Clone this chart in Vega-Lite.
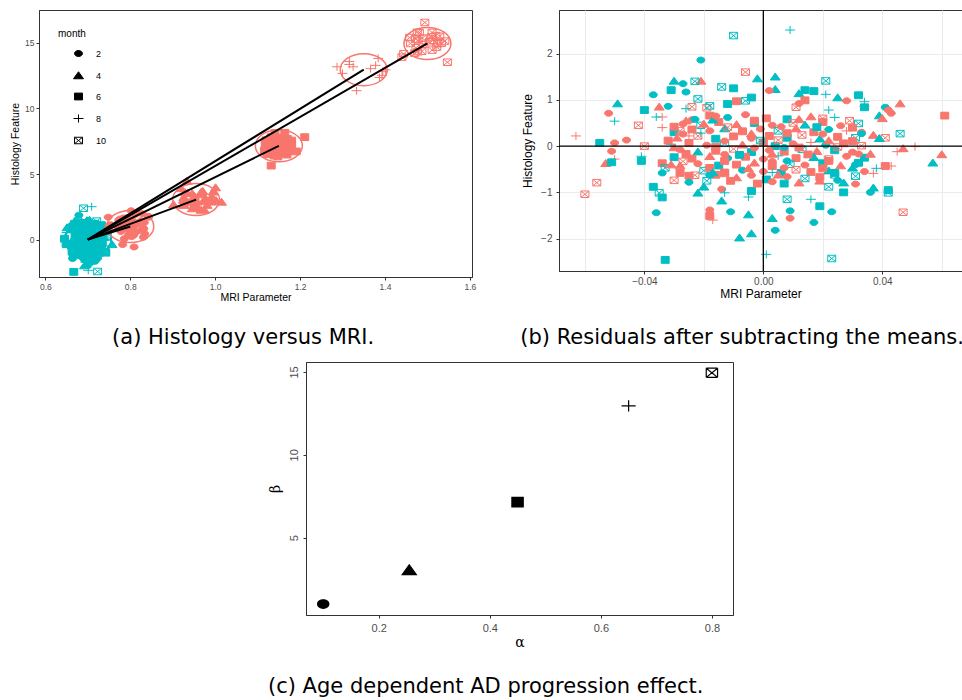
{
  "$schema": "https://vega.github.io/schema/vega-lite/v6.json",
  "padding": {"left": 10, "top": 8, "right": 0, "bottom": 0},
  "background": "white",
  "config": {
    "font": "Liberation Sans",
    "view": {"stroke": "#333333", "strokeWidth": 1},
    "axis": {
      "labelFont": "Liberation Sans",
      "titleFont": "Liberation Sans",
      "labelColor": "#4d4d4d",
      "tickColor": "#333333",
      "domainColor": "#333333",
      "titleColor": "#000000",
      "titleFontWeight": "normal",
      "grid": false,
      "tickSize": 3,
      "labelPadding": 2,
      "labelOverlap": false
    },
    "legend": {"symbolBaseFillColor": "black", "symbolBaseStrokeColor": "black"},
    "title": {"font": "DejaVu Sans", "fontSize": 21, "fontWeight": "normal", "color": "#000000"}
  },
  "datasets": {
    "means": [
      {"month": 2, "ctrl_mri": 0.70, "ctrl_hist": 0.0, "ad_mri": 0.80, "ad_hist": 1.0, "alpha": 0.10, "beta": 1.0},
      {"month": 4, "ctrl_mri": 0.70, "ctrl_hist": 0.0, "ad_mri": 0.955, "ad_hist": 3.05, "alpha": 0.255, "beta": 3.05},
      {"month": 6, "ctrl_mri": 0.70, "ctrl_hist": 0.0, "ad_mri": 1.15, "ad_hist": 7.15, "alpha": 0.45, "beta": 7.15},
      {"month": 8, "ctrl_mri": 0.70, "ctrl_hist": 0.0, "ad_mri": 1.35, "ad_hist": 12.95, "alpha": 0.65, "beta": 12.95},
      {"month": 10, "ctrl_mri": 0.70, "ctrl_hist": 0.0, "ad_mri": 1.50, "ad_hist": 14.95, "alpha": 0.80, "beta": 14.95}
    ],
    "obs": [
      {"group": "AD", "month": 6, "mri": 1.132, "hist": 7.81, "mri_res": -0.018, "hist_res": 0.66},
      {"group": "Control", "month": 2, "mri": 0.688, "hist": 0.62, "mri_res": -0.012, "hist_res": 0.62},
      {"group": "AD", "month": 2, "mri": 0.794, "hist": 1.68, "mri_res": -0.006, "hist_res": 0.68},
      {"group": "AD", "month": 6, "mri": 1.151, "hist": 7.75, "mri_res": 0.001, "hist_res": 0.60},
      {"group": "Control", "month": 6, "mri": 0.708, "hist": 0.58, "mri_res": 0.008, "hist_res": 0.58},
      {"group": "AD", "month": 4, "mri": 0.971, "hist": 3.69, "mri_res": 0.016, "hist_res": 0.64},
      {"group": "Control", "month": 8, "mri": 0.724, "hist": 0.62, "mri_res": 0.024, "hist_res": 0.62},
      {"group": "AD", "month": 10, "mri": 1.529, "hist": 15.50, "mri_res": 0.029, "hist_res": 0.55},
      {"group": "AD", "month": 2, "mri": 0.773, "hist": 1.48, "mri_res": -0.027, "hist_res": 0.48},
      {"group": "Control", "month": 10, "mri": 0.679, "hist": 0.45, "mri_res": -0.021, "hist_res": 0.45},
      {"group": "AD", "month": 6, "mri": 1.135, "hist": 7.67, "mri_res": -0.015, "hist_res": 0.52},
      {"group": "AD", "month": 4, "mri": 0.946, "hist": 3.52, "mri_res": -0.009, "hist_res": 0.47},
      {"group": "Control", "month": 6, "mri": 0.697, "hist": 0.50, "mri_res": -0.003, "hist_res": 0.50},
      {"group": "AD", "month": 2, "mri": 0.803, "hist": 1.45, "mri_res": 0.003, "hist_res": 0.45},
      {"group": "AD", "month": 10, "mri": 1.510, "hist": 15.45, "mri_res": 0.010, "hist_res": 0.50},
      {"group": "Control", "month": 4, "mri": 0.714, "hist": 0.46, "mri_res": 0.014, "hist_res": 0.46},
      {"group": "AD", "month": 6, "mri": 1.170, "hist": 7.67, "mri_res": 0.020, "hist_res": 0.52},
      {"group": "AD", "month": 2, "mri": 0.826, "hist": 1.44, "mri_res": 0.026, "hist_res": 0.44},
      {"group": "Control", "month": 10, "mri": 0.732, "hist": 0.49, "mri_res": 0.032, "hist_res": 0.49},
      {"group": "Control", "month": 6, "mri": 0.670, "hist": 0.30, "mri_res": -0.030, "hist_res": 0.30},
      {"group": "AD", "month": 6, "mri": 1.126, "hist": 7.51, "mri_res": -0.024, "hist_res": 0.36},
      {"group": "AD", "month": 2, "mri": 0.782, "hist": 1.33, "mri_res": -0.018, "hist_res": 0.33},
      {"group": "Control", "month": 4, "mri": 0.687, "hist": 0.38, "mri_res": -0.013, "hist_res": 0.38},
      {"group": "AD", "month": 6, "mri": 1.143, "hist": 7.47, "mri_res": -0.007, "hist_res": 0.32},
      {"group": "AD", "month": 2, "mri": 0.799, "hist": 1.37, "mri_res": -0.001, "hist_res": 0.37},
      {"group": "Control", "month": 10, "mri": 0.705, "hist": 0.33, "mri_res": 0.005, "hist_res": 0.33},
      {"group": "AD", "month": 4, "mri": 0.966, "hist": 3.43, "mri_res": 0.011, "hist_res": 0.38},
      {"group": "AD", "month": 6, "mri": 1.167, "hist": 7.45, "mri_res": 0.017, "hist_res": 0.30},
      {"group": "Control", "month": 2, "mri": 0.722, "hist": 0.36, "mri_res": 0.022, "hist_res": 0.36},
      {"group": "AD", "month": 8, "mri": 1.378, "hist": 13.28, "mri_res": 0.028, "hist_res": 0.33},
      {"group": "AD", "month": 2, "mri": 0.833, "hist": 1.30, "mri_res": 0.033, "hist_res": 0.30},
      {"group": "AD", "month": 4, "mri": 0.926, "hist": 3.23, "mri_res": -0.029, "hist_res": 0.18},
      {"group": "AD", "month": 10, "mri": 1.478, "hist": 15.17, "mri_res": -0.022, "hist_res": 0.22},
      {"group": "Control", "month": 6, "mri": 0.684, "hist": 0.16, "mri_res": -0.016, "hist_res": 0.16},
      {"group": "AD", "month": 6, "mri": 1.140, "hist": 7.36, "mri_res": -0.010, "hist_res": 0.21},
      {"group": "AD", "month": 2, "mri": 0.796, "hist": 1.17, "mri_res": -0.004, "hist_res": 0.17},
      {"group": "AD", "month": 6, "mri": 1.152, "hist": 7.37, "mri_res": 0.002, "hist_res": 0.22},
      {"group": "Control", "month": 6, "mri": 0.708, "hist": 0.18, "mri_res": 0.008, "hist_res": 0.18},
      {"group": "AD", "month": 10, "mri": 1.513, "hist": 15.19, "mri_res": 0.013, "hist_res": 0.24},
      {"group": "Control", "month": 4, "mri": 0.719, "hist": 0.16, "mri_res": 0.019, "hist_res": 0.16},
      {"group": "AD", "month": 6, "mri": 1.175, "hist": 7.35, "mri_res": 0.025, "hist_res": 0.20},
      {"group": "Control", "month": 10, "mri": 0.731, "hist": 0.18, "mri_res": 0.031, "hist_res": 0.18},
      {"group": "Control", "month": 8, "mri": 0.669, "hist": 0.04, "mri_res": -0.031, "hist_res": 0.04},
      {"group": "AD", "month": 6, "mri": 1.125, "hist": 7.22, "mri_res": -0.025, "hist_res": 0.07},
      {"group": "AD", "month": 2, "mri": 0.781, "hist": 1.02, "mri_res": -0.019, "hist_res": 0.02},
      {"group": "Control", "month": 10, "mri": 0.687, "hist": 0.06, "mri_res": -0.013, "hist_res": 0.06},
      {"group": "AD", "month": 4, "mri": 0.948, "hist": 3.08, "mri_res": -0.007, "hist_res": 0.03},
      {"group": "AD", "month": 6, "mri": 1.150, "hist": 7.23, "mri_res": 0.000, "hist_res": 0.08},
      {"group": "Control", "month": 6, "mri": 0.704, "hist": 0.00, "mri_res": 0.004, "hist_res": 0.00},
      {"group": "AD", "month": 2, "mri": 0.810, "hist": 1.05, "mri_res": 0.010, "hist_res": 0.05},
      {"group": "AD", "month": 8, "mri": 1.366, "hist": 13.03, "mri_res": 0.016, "hist_res": 0.08},
      {"group": "Control", "month": 2, "mri": 0.721, "hist": 0.02, "mri_res": 0.021, "hist_res": 0.02},
      {"group": "AD", "month": 6, "mri": 1.177, "hist": 7.21, "mri_res": 0.027, "hist_res": 0.06},
      {"group": "AD", "month": 10, "mri": 1.533, "hist": 14.96, "mri_res": 0.033, "hist_res": 0.01},
      {"group": "AD", "month": 2, "mri": 0.772, "hist": 0.92, "mri_res": -0.028, "hist_res": -0.08},
      {"group": "Control", "month": 4, "mri": 0.678, "hist": -0.12, "mri_res": -0.022, "hist_res": -0.12},
      {"group": "AD", "month": 6, "mri": 1.134, "hist": 7.05, "mri_res": -0.016, "hist_res": -0.10},
      {"group": "AD", "month": 10, "mri": 1.490, "hist": 14.89, "mri_res": -0.010, "hist_res": -0.06},
      {"group": "Control", "month": 6, "mri": 0.696, "hist": -0.13, "mri_res": -0.004, "hist_res": -0.13},
      {"group": "AD", "month": 2, "mri": 0.802, "hist": 0.91, "mri_res": 0.002, "hist_res": -0.09},
      {"group": "AD", "month": 6, "mri": 1.157, "hist": 7.03, "mri_res": 0.007, "hist_res": -0.12},
      {"group": "Control", "month": 10, "mri": 0.713, "hist": -0.07, "mri_res": 0.013, "hist_res": -0.07},
      {"group": "AD", "month": 4, "mri": 0.973, "hist": 2.94, "mri_res": 0.018, "hist_res": -0.11},
      {"group": "Control", "month": 6, "mri": 0.724, "hist": -0.09, "mri_res": 0.024, "hist_res": -0.09},
      {"group": "AD", "month": 2, "mri": 0.830, "hist": 0.87, "mri_res": 0.030, "hist_res": -0.13},
      {"group": "Control", "month": 6, "mri": 0.670, "hist": -0.24, "mri_res": -0.030, "hist_res": -0.24},
      {"group": "AD", "month": 6, "mri": 1.126, "hist": 6.88, "mri_res": -0.024, "hist_res": -0.27},
      {"group": "AD", "month": 4, "mri": 0.937, "hist": 2.83, "mri_res": -0.018, "hist_res": -0.22},
      {"group": "Control", "month": 2, "mri": 0.688, "hist": -0.26, "mri_res": -0.012, "hist_res": -0.26},
      {"group": "AD", "month": 6, "mri": 1.144, "hist": 6.92, "mri_res": -0.006, "hist_res": -0.23},
      {"group": "AD", "month": 2, "mri": 0.800, "hist": 0.72, "mri_res": 0.000, "hist_res": -0.28},
      {"group": "Control", "month": 8, "mri": 0.705, "hist": -0.21, "mri_res": 0.005, "hist_res": -0.21},
      {"group": "AD", "month": 6, "mri": 1.161, "hist": 6.89, "mri_res": 0.011, "hist_res": -0.26},
      {"group": "Control", "month": 4, "mri": 0.717, "hist": -0.24, "mri_res": 0.017, "hist_res": -0.24},
      {"group": "AD", "month": 10, "mri": 1.522, "hist": 14.67, "mri_res": 0.022, "hist_res": -0.28},
      {"group": "AD", "month": 2, "mri": 0.828, "hist": 0.78, "mri_res": 0.028, "hist_res": -0.22},
      {"group": "Control", "month": 6, "mri": 0.734, "hist": -0.25, "mri_res": 0.034, "hist_res": -0.25},
      {"group": "AD", "month": 2, "mri": 0.778, "hist": 0.62, "mri_res": -0.022, "hist_res": -0.38},
      {"group": "Control", "month": 6, "mri": 0.685, "hist": -0.42, "mri_res": -0.015, "hist_res": -0.42},
      {"group": "AD", "month": 6, "mri": 1.141, "hist": 6.75, "mri_res": -0.009, "hist_res": -0.40},
      {"group": "AD", "month": 4, "mri": 0.952, "hist": 2.69, "mri_res": -0.003, "hist_res": -0.36},
      {"group": "AD", "month": 6, "mri": 1.153, "hist": 6.72, "mri_res": 0.003, "hist_res": -0.43},
      {"group": "Control", "month": 10, "mri": 0.709, "hist": -0.39, "mri_res": 0.009, "hist_res": -0.39},
      {"group": "AD", "month": 2, "mri": 0.814, "hist": 0.59, "mri_res": 0.014, "hist_res": -0.41},
      {"group": "Control", "month": 6, "mri": 0.720, "hist": -0.37, "mri_res": 0.020, "hist_res": -0.37},
      {"group": "AD", "month": 4, "mri": 0.981, "hist": 2.63, "mri_res": 0.026, "hist_res": -0.42},
      {"group": "Control", "month": 2, "mri": 0.731, "hist": -0.40, "mri_res": 0.031, "hist_res": -0.40},
      {"group": "Control", "month": 10, "mri": 0.680, "hist": -0.53, "mri_res": -0.020, "hist_res": -0.53},
      {"group": "AD", "month": 6, "mri": 1.137, "hist": 6.58, "mri_res": -0.013, "hist_res": -0.57},
      {"group": "Control", "month": 2, "mri": 0.693, "hist": -0.52, "mri_res": -0.007, "hist_res": -0.52},
      {"group": "AD", "month": 2, "mri": 0.800, "hist": 0.45, "mri_res": 0.000, "hist_res": -0.55},
      {"group": "Control", "month": 6, "mri": 0.706, "hist": -0.58, "mri_res": 0.006, "hist_res": -0.58},
      {"group": "AD", "month": 10, "mri": 1.511, "hist": 14.44, "mri_res": 0.011, "hist_res": -0.51},
      {"group": "AD", "month": 6, "mri": 1.166, "hist": 6.59, "mri_res": 0.016, "hist_res": -0.56},
      {"group": "Control", "month": 4, "mri": 0.722, "hist": -0.53, "mri_res": 0.022, "hist_res": -0.53},
      {"group": "AD", "month": 4, "mri": 0.946, "hist": 2.37, "mri_res": -0.009, "hist_res": -0.68},
      {"group": "Control", "month": 6, "mri": 0.701, "hist": -0.72, "mri_res": 0.001, "hist_res": -0.72},
      {"group": "AD", "month": 2, "mri": 0.808, "hist": 0.34, "mri_res": 0.008, "hist_res": -0.66},
      {"group": "Control", "month": 10, "mri": 0.714, "hist": -0.70, "mri_res": 0.014, "hist_res": -0.70},
      {"group": "AD", "month": 6, "mri": 1.169, "hist": 6.48, "mri_res": 0.019, "hist_res": -0.67},
      {"group": "AD", "month": 2, "mri": 0.776, "hist": 1.57, "mri_res": -0.024, "hist_res": 0.57},
      {"group": "AD", "month": 6, "mri": 1.147, "hist": 7.70, "mri_res": -0.003, "hist_res": 0.55},
      {"group": "AD", "month": 4, "mri": 0.967, "hist": 3.63, "mri_res": 0.012, "hist_res": 0.58},
      {"group": "AD", "month": 10, "mri": 1.520, "hist": 15.55, "mri_res": 0.020, "hist_res": 0.60},
      {"group": "Control", "month": 4, "mri": 0.683, "hist": 0.57, "mri_res": -0.017, "hist_res": 0.57},
      {"group": "AD", "month": 6, "mri": 1.120, "hist": 7.57, "mri_res": -0.030, "hist_res": 0.42},
      {"group": "AD", "month": 10, "mri": 1.488, "hist": 15.36, "mri_res": -0.012, "hist_res": 0.41},
      {"group": "AD", "month": 2, "mri": 0.806, "hist": 1.42, "mri_res": 0.006, "hist_res": 0.42},
      {"group": "AD", "month": 6, "mri": 1.180, "hist": 7.55, "mri_res": 0.030, "hist_res": 0.40},
      {"group": "Control", "month": 6, "mri": 0.718, "hist": 0.41, "mri_res": 0.018, "hist_res": 0.41},
      {"group": "AD", "month": 2, "mri": 0.773, "hist": 1.26, "mri_res": -0.027, "hist_res": 0.26},
      {"group": "AD", "month": 4, "mri": 0.951, "hist": 3.32, "mri_res": -0.004, "hist_res": 0.27},
      {"group": "AD", "month": 6, "mri": 1.158, "hist": 7.43, "mri_res": 0.008, "hist_res": 0.28},
      {"group": "AD", "month": 2, "mri": 0.820, "hist": 1.26, "mri_res": 0.020, "hist_res": 0.26},
      {"group": "Control", "month": 8, "mri": 0.679, "hist": 0.28, "mri_res": -0.021, "hist_res": 0.28},
      {"group": "AD", "month": 6, "mri": 1.118, "hist": 7.27, "mri_res": -0.032, "hist_res": 0.12},
      {"group": "AD", "month": 2, "mri": 0.787, "hist": 1.11, "mri_res": -0.013, "hist_res": 0.11},
      {"group": "AD", "month": 10, "mri": 1.505, "hist": 15.08, "mri_res": 0.005, "hist_res": 0.13},
      {"group": "AD", "month": 4, "mri": 0.977, "hist": 3.17, "mri_res": 0.022, "hist_res": 0.12},
      {"group": "Control", "month": 10, "mri": 0.699, "hist": 0.12, "mri_res": -0.001, "hist_res": 0.12},
      {"group": "AD", "month": 6, "mri": 1.180, "hist": 7.26, "mri_res": 0.030, "hist_res": 0.11},
      {"group": "AD", "month": 4, "mri": 0.925, "hist": 3.02, "mri_res": -0.030, "hist_res": -0.03},
      {"group": "AD", "month": 6, "mri": 1.134, "hist": 7.13, "mri_res": -0.016, "hist_res": -0.02},
      {"group": "AD", "month": 2, "mri": 0.797, "hist": 0.96, "mri_res": -0.003, "hist_res": -0.04},
      {"group": "AD", "month": 6, "mri": 1.162, "hist": 7.12, "mri_res": 0.012, "hist_res": -0.03},
      {"group": "AD", "month": 10, "mri": 1.525, "hist": 14.93, "mri_res": 0.025, "hist_res": -0.02},
      {"group": "Control", "month": 2, "mri": 0.707, "hist": -0.03, "mri_res": 0.007, "hist_res": -0.03},
      {"group": "AD", "month": 6, "mri": 1.124, "hist": 6.98, "mri_res": -0.026, "hist_res": -0.17},
      {"group": "AD", "month": 2, "mri": 0.787, "hist": 0.82, "mri_res": -0.013, "hist_res": -0.18},
      {"group": "AD", "month": 4, "mri": 0.958, "hist": 2.88, "mri_res": 0.003, "hist_res": -0.17},
      {"group": "AD", "month": 6, "mri": 1.165, "hist": 6.97, "mri_res": 0.015, "hist_res": -0.18},
      {"group": "AD", "month": 2, "mri": 0.832, "hist": 0.83, "mri_res": 0.032, "hist_res": -0.17},
      {"group": "Control", "month": 6, "mri": 0.692, "hist": -0.19, "mri_res": -0.008, "hist_res": -0.19},
      {"group": "AD", "month": 10, "mri": 1.473, "hist": 14.62, "mri_res": -0.027, "hist_res": -0.33},
      {"group": "AD", "month": 6, "mri": 1.137, "hist": 6.83, "mri_res": -0.013, "hist_res": -0.32},
      {"group": "AD", "month": 2, "mri": 0.803, "hist": 0.67, "mri_res": 0.003, "hist_res": -0.33},
      {"group": "AD", "month": 6, "mri": 1.172, "hist": 6.83, "mri_res": 0.022, "hist_res": -0.32},
      {"group": "Control", "month": 2, "mri": 0.708, "hist": -0.32, "mri_res": 0.008, "hist_res": -0.32},
      {"group": "AD", "month": 6, "mri": 1.132, "hist": 6.68, "mri_res": -0.018, "hist_res": -0.47},
      {"group": "AD", "month": 4, "mri": 0.950, "hist": 2.57, "mri_res": -0.005, "hist_res": -0.48},
      {"group": "AD", "month": 2, "mri": 0.807, "hist": 0.53, "mri_res": 0.007, "hist_res": -0.47},
      {"group": "AD", "month": 6, "mri": 1.170, "hist": 6.67, "mri_res": 0.020, "hist_res": -0.48},
      {"group": "Control", "month": 4, "mri": 0.730, "hist": -0.47, "mri_res": 0.030, "hist_res": -0.47},
      {"group": "AD", "month": 6, "mri": 1.134, "hist": 6.53, "mri_res": -0.016, "hist_res": -0.62},
      {"group": "AD", "month": 2, "mri": 0.796, "hist": 0.37, "mri_res": -0.004, "hist_res": -0.63},
      {"group": "AD", "month": 4, "mri": 0.960, "hist": 2.43, "mri_res": 0.005, "hist_res": -0.62},
      {"group": "Control", "month": 10, "mri": 0.724, "hist": -0.62, "mri_res": 0.024, "hist_res": -0.62},
      {"group": "Control", "month": 8, "mri": 0.709, "hist": 2.51, "mri_res": 0.009, "hist_res": 2.51},
      {"group": "Control", "month": 10, "mri": 0.690, "hist": 2.39, "mri_res": -0.010, "hist_res": 2.39},
      {"group": "Control", "month": 2, "mri": 0.679, "hist": 1.86, "mri_res": -0.021, "hist_res": 1.86},
      {"group": "AD", "month": 10, "mri": 1.494, "hist": 16.55, "mri_res": -0.006, "hist_res": 1.60},
      {"group": "Control", "month": 10, "mri": 0.721, "hist": 1.41, "mri_res": 0.021, "hist_res": 1.41},
      {"group": "Control", "month": 4, "mri": 0.698, "hist": 1.46, "mri_res": -0.002, "hist_res": 1.46},
      {"group": "Control", "month": 4, "mri": 0.704, "hist": 1.50, "mri_res": 0.004, "hist_res": 1.50},
      {"group": "Control", "month": 4, "mri": 0.670, "hist": 1.41, "mri_res": -0.030, "hist_res": 1.41},
      {"group": "Control", "month": 2, "mri": 0.673, "hist": 1.35, "mri_res": -0.027, "hist_res": 1.35},
      {"group": "AD", "month": 4, "mri": 0.934, "hist": 4.46, "mri_res": -0.021, "hist_res": 1.41},
      {"group": "Control", "month": 10, "mri": 0.677, "hist": 1.40, "mri_res": -0.023, "hist_res": 1.40},
      {"group": "Control", "month": 6, "mri": 0.669, "hist": 1.21, "mri_res": -0.031, "hist_res": 1.21},
      {"group": "Control", "month": 2, "mri": 0.674, "hist": 1.17, "mri_res": -0.026, "hist_res": 1.17},
      {"group": "Control", "month": 10, "mri": 0.686, "hist": 1.28, "mri_res": -0.014, "hist_res": 1.28},
      {"group": "Control", "month": 6, "mri": 0.690, "hist": 1.25, "mri_res": -0.010, "hist_res": 1.25},
      {"group": "Control", "month": 4, "mri": 0.704, "hist": 1.23, "mri_res": 0.004, "hist_res": 1.23},
      {"group": "AD", "month": 2, "mri": 0.802, "hist": 2.20, "mri_res": 0.002, "hist_res": 1.20},
      {"group": "Control", "month": 6, "mri": 0.714, "hist": 1.21, "mri_res": 0.014, "hist_res": 1.21},
      {"group": "Control", "month": 6, "mri": 0.717, "hist": 1.19, "mri_res": 0.017, "hist_res": 1.19},
      {"group": "Control", "month": 4, "mri": 0.712, "hist": 1.14, "mri_res": 0.012, "hist_res": 1.14},
      {"group": "Control", "month": 8, "mri": 0.721, "hist": 1.12, "mri_res": 0.021, "hist_res": 1.12},
      {"group": "Control", "month": 2, "mri": 0.663, "hist": 1.11, "mri_res": -0.037, "hist_res": 1.11},
      {"group": "Control", "month": 4, "mri": 0.725, "hist": 1.05, "mri_res": 0.025, "hist_res": 1.05},
      {"group": "Control", "month": 6, "mri": 0.732, "hist": 1.10, "mri_res": 0.032, "hist_res": 1.10},
      {"group": "AD", "month": 2, "mri": 0.828, "hist": 1.98, "mri_res": 0.028, "hist_res": 0.98},
      {"group": "Control", "month": 8, "mri": 0.734, "hist": 0.96, "mri_res": 0.034, "hist_res": 0.96},
      {"group": "AD", "month": 8, "mri": 1.384, "hist": 13.81, "mri_res": 0.034, "hist_res": 0.86},
      {"group": "Control", "month": 6, "mri": 0.734, "hist": 0.84, "mri_res": 0.034, "hist_res": 0.84},
      {"group": "Control", "month": 4, "mri": 0.651, "hist": 0.92, "mri_res": -0.049, "hist_res": 0.92},
      {"group": "AD", "month": 2, "mri": 0.748, "hist": 1.71, "mri_res": -0.052, "hist_res": 0.71},
      {"group": "Control", "month": 8, "mri": 0.650, "hist": 0.54, "mri_res": -0.050, "hist_res": 0.54},
      {"group": "AD", "month": 10, "mri": 1.458, "hist": 15.40, "mri_res": -0.042, "hist_res": 0.45},
      {"group": "Control", "month": 6, "mri": 0.660, "hist": 0.78, "mri_res": -0.040, "hist_res": 0.78},
      {"group": "Control", "month": 2, "mri": 0.668, "hist": 0.86, "mri_res": -0.032, "hist_res": 0.86},
      {"group": "AD", "month": 4, "mri": 0.920, "hist": 3.90, "mri_res": -0.035, "hist_res": 0.85},
      {"group": "Control", "month": 10, "mri": 0.678, "hist": 1.02, "mri_res": -0.022, "hist_res": 1.02},
      {"group": "AD", "month": 10, "mri": 1.476, "hist": 15.80, "mri_res": -0.024, "hist_res": 0.85},
      {"group": "AD", "month": 10, "mri": 1.481, "hist": 15.78, "mri_res": -0.019, "hist_res": 0.83},
      {"group": "Control", "month": 10, "mri": 0.682, "hist": 0.87, "mri_res": -0.018, "hist_res": 0.87},
      {"group": "Control", "month": 8, "mri": 0.674, "hist": 0.81, "mri_res": -0.026, "hist_res": 0.81},
      {"group": "AD", "month": 6, "mri": 1.141, "hist": 8.12, "mri_res": -0.009, "hist_res": 0.97},
      {"group": "Control", "month": 6, "mri": 0.688, "hist": 0.91, "mri_res": -0.012, "hist_res": 0.91},
      {"group": "Control", "month": 6, "mri": 0.696, "hist": 1.05, "mri_res": -0.004, "hist_res": 1.05},
      {"group": "Control", "month": 10, "mri": 0.694, "hist": 0.98, "mri_res": -0.006, "hist_res": 0.98},
      {"group": "AD", "month": 6, "mri": 1.164, "hist": 8.14, "mri_res": 0.014, "hist_res": 0.99},
      {"group": "AD", "month": 2, "mri": 0.812, "hist": 1.92, "mri_res": 0.012, "hist_res": 0.92},
      {"group": "AD", "month": 10, "mri": 1.511, "hist": 15.79, "mri_res": 0.011, "hist_res": 0.84},
      {"group": "Control", "month": 8, "mri": 0.722, "hist": 0.78, "mri_res": 0.022, "hist_res": 0.78},
      {"group": "Control", "month": 2, "mri": 0.741, "hist": 0.84, "mri_res": 0.041, "hist_res": 0.84},
      {"group": "AD", "month": 2, "mri": 0.842, "hist": 1.78, "mri_res": 0.042, "hist_res": 0.78},
      {"group": "AD", "month": 2, "mri": 0.843, "hist": 1.71, "mri_res": 0.043, "hist_res": 0.71},
      {"group": "AD", "month": 4, "mri": 1.001, "hist": 3.97, "mri_res": 0.046, "hist_res": 0.92},
      {"group": "Control", "month": 4, "mri": 0.739, "hist": 0.66, "mri_res": 0.039, "hist_res": 0.66},
      {"group": "AD", "month": 4, "mri": 0.995, "hist": 3.65, "mri_res": 0.040, "hist_res": 0.60},
      {"group": "AD", "month": 6, "mri": 1.211, "hist": 7.81, "mri_res": 0.061, "hist_res": 0.66},
      {"group": "AD", "month": 8, "mri": 1.287, "hist": 13.17, "mri_res": -0.063, "hist_res": 0.22},
      {"group": "Control", "month": 6, "mri": 0.645, "hist": 0.07, "mri_res": -0.055, "hist_res": 0.07},
      {"group": "AD", "month": 2, "mri": 0.750, "hist": 1.07, "mri_res": -0.050, "hist_res": 0.07},
      {"group": "AD", "month": 2, "mri": 0.754, "hist": 1.13, "mri_res": -0.046, "hist_res": 0.13},
      {"group": "AD", "month": 10, "mri": 1.460, "hist": 14.95, "mri_res": -0.040, "hist_res": 0.00},
      {"group": "AD", "month": 8, "mri": 1.316, "hist": 13.58, "mri_res": -0.034, "hist_res": 0.63},
      {"group": "Control", "month": 8, "mri": 0.664, "hist": 0.63, "mri_res": -0.036, "hist_res": 0.63},
      {"group": "AD", "month": 8, "mri": 1.316, "hist": 13.35, "mri_res": -0.034, "hist_res": 0.40},
      {"group": "AD", "month": 10, "mri": 1.472, "hist": 15.28, "mri_res": -0.028, "hist_res": 0.33},
      {"group": "AD", "month": 8, "mri": 1.325, "hist": 13.17, "mri_res": -0.025, "hist_res": 0.22},
      {"group": "AD", "month": 4, "mri": 0.929, "hist": 3.60, "mri_res": -0.026, "hist_res": 0.55},
      {"group": "AD", "month": 4, "mri": 0.935, "hist": 3.53, "mri_res": -0.020, "hist_res": 0.48},
      {"group": "Control", "month": 2, "mri": 0.677, "hist": 0.58, "mri_res": -0.023, "hist_res": 0.58},
      {"group": "AD", "month": 2, "mri": 0.784, "hist": 1.65, "mri_res": -0.016, "hist_res": 0.65},
      {"group": "AD", "month": 2, "mri": 0.749, "hist": 0.89, "mri_res": -0.051, "hist_res": -0.11},
      {"group": "Control", "month": 8, "mri": 0.659, "hist": -0.22, "mri_res": -0.041, "hist_res": -0.22},
      {"group": "AD", "month": 8, "mri": 1.300, "hist": 12.67, "mri_res": -0.050, "hist_res": -0.28},
      {"group": "AD", "month": 4, "mri": 0.902, "hist": 2.68, "mri_res": -0.053, "hist_res": -0.37},
      {"group": "Control", "month": 6, "mri": 0.649, "hist": -0.35, "mri_res": -0.051, "hist_res": -0.35},
      {"group": "Control", "month": 6, "mri": 0.659, "hist": -0.32, "mri_res": -0.041, "hist_res": -0.32},
      {"group": "AD", "month": 10, "mri": 1.444, "hist": 14.16, "mri_res": -0.056, "hist_res": -0.79},
      {"group": "AD", "month": 10, "mri": 1.440, "hist": 13.91, "mri_res": -0.060, "hist_res": -1.04},
      {"group": "AD", "month": 6, "mri": 1.116, "hist": 6.78, "mri_res": -0.034, "hist_res": -0.37},
      {"group": "Control", "month": 10, "mri": 0.667, "hist": -0.47, "mri_res": -0.033, "hist_res": -0.47},
      {"group": "Control", "month": 2, "mri": 0.666, "hist": -0.58, "mri_res": -0.034, "hist_res": -0.58},
      {"group": "AD", "month": 4, "mri": 0.924, "hist": 2.65, "mri_res": -0.031, "hist_res": -0.40},
      {"group": "AD", "month": 4, "mri": 0.927, "hist": 2.63, "mri_res": -0.028, "hist_res": -0.42},
      {"group": "AD", "month": 6, "mri": 1.122, "hist": 6.57, "mri_res": -0.028, "hist_res": -0.58},
      {"group": "AD", "month": 6, "mri": 1.125, "hist": 6.51, "mri_res": -0.025, "hist_res": -0.64},
      {"group": "AD", "month": 10, "mri": 1.477, "hist": 14.32, "mri_res": -0.023, "hist_res": -0.63},
      {"group": "AD", "month": 10, "mri": 1.470, "hist": 14.21, "mri_res": -0.030, "hist_res": -0.74},
      {"group": "Control", "month": 2, "mri": 0.675, "hist": -0.78, "mri_res": -0.025, "hist_res": -0.78},
      {"group": "Control", "month": 6, "mri": 0.663, "hist": -0.88, "mri_res": -0.037, "hist_res": -0.88},
      {"group": "Control", "month": 10, "mri": 0.665, "hist": -1.01, "mri_res": -0.035, "hist_res": -1.01},
      {"group": "Control", "month": 6, "mri": 0.666, "hist": -1.11, "mri_res": -0.034, "hist_res": -1.11},
      {"group": "Control", "month": 4, "mri": 0.678, "hist": -1.01, "mri_res": -0.022, "hist_res": -1.01},
      {"group": "Control", "month": 4, "mri": 0.680, "hist": -0.88, "mri_res": -0.020, "hist_res": -0.88},
      {"group": "Control", "month": 10, "mri": 0.681, "hist": -0.75, "mri_res": -0.019, "hist_res": -0.75},
      {"group": "Control", "month": 2, "mri": 0.682, "hist": -0.63, "mri_res": -0.018, "hist_res": -0.63},
      {"group": "Control", "month": 4, "mri": 0.683, "hist": -0.57, "mri_res": -0.017, "hist_res": -0.57},
      {"group": "AD", "month": 2, "mri": 0.786, "hist": 0.07, "mri_res": -0.014, "hist_res": -0.93},
      {"group": "Control", "month": 8, "mri": 0.687, "hist": -1.01, "mri_res": -0.013, "hist_res": -1.01},
      {"group": "Control", "month": 4, "mri": 0.686, "hist": -1.18, "mri_res": -0.014, "hist_res": -1.18},
      {"group": "AD", "month": 10, "mri": 1.487, "hist": 14.36, "mri_res": -0.013, "hist_res": -0.59},
      {"group": "AD", "month": 6, "mri": 1.139, "hist": 6.40, "mri_res": -0.011, "hist_res": -0.75},
      {"group": "Control", "month": 6, "mri": 0.696, "hist": -0.97, "mri_res": -0.004, "hist_res": -0.97},
      {"group": "Control", "month": 8, "mri": 0.695, "hist": -1.10, "mri_res": -0.005, "hist_res": -1.10},
      {"group": "AD", "month": 6, "mri": 1.148, "hist": 6.34, "mri_res": -0.002, "hist_res": -0.81},
      {"group": "Control", "month": 2, "mri": 0.664, "hist": -1.44, "mri_res": -0.036, "hist_res": -1.44},
      {"group": "AD", "month": 2, "mri": 0.782, "hist": -0.38, "mri_res": -0.018, "hist_res": -1.38},
      {"group": "AD", "month": 6, "mri": 1.132, "hist": 5.64, "mri_res": -0.018, "hist_res": -1.51},
      {"group": "AD", "month": 8, "mri": 1.333, "hist": 11.35, "mri_res": -0.017, "hist_res": -1.60},
      {"group": "Control", "month": 2, "mri": 0.689, "hist": -1.42, "mri_res": -0.011, "hist_res": -1.42},
      {"group": "Control", "month": 4, "mri": 0.695, "hist": -1.48, "mri_res": -0.005, "hist_res": -1.48},
      {"group": "Control", "month": 4, "mri": 0.692, "hist": -1.98, "mri_res": -0.008, "hist_res": -1.98},
      {"group": "Control", "month": 4, "mri": 0.696, "hist": -1.89, "mri_res": -0.004, "hist_res": -1.89},
      {"group": "Control", "month": 6, "mri": 0.667, "hist": -2.46, "mri_res": -0.033, "hist_res": -2.46},
      {"group": "Control", "month": 8, "mri": 0.701, "hist": -2.34, "mri_res": 0.001, "hist_res": -2.34},
      {"group": "Control", "month": 4, "mri": 0.703, "hist": -1.56, "mri_res": 0.003, "hist_res": -1.56},
      {"group": "Control", "month": 2, "mri": 0.704, "hist": -1.82, "mri_res": 0.004, "hist_res": -1.82},
      {"group": "AD", "month": 2, "mri": 0.809, "hist": -0.56, "mri_res": 0.009, "hist_res": -1.56},
      {"group": "Control", "month": 2, "mri": 0.709, "hist": -1.40, "mri_res": 0.009, "hist_res": -1.40},
      {"group": "Control", "month": 2, "mri": 0.717, "hist": -1.65, "mri_res": 0.017, "hist_res": -1.65},
      {"group": "Control", "month": 2, "mri": 0.723, "hist": -1.42, "mri_res": 0.023, "hist_res": -1.42},
      {"group": "Control", "month": 10, "mri": 0.723, "hist": -2.43, "mri_res": 0.023, "hist_res": -2.43},
      {"group": "Control", "month": 10, "mri": 0.708, "hist": -1.15, "mri_res": 0.008, "hist_res": -1.15},
      {"group": "Control", "month": 8, "mri": 0.716, "hist": -1.15, "mri_res": 0.016, "hist_res": -1.15},
      {"group": "Control", "month": 6, "mri": 0.719, "hist": -1.30, "mri_res": 0.019, "hist_res": -1.30},
      {"group": "Control", "month": 10, "mri": 0.722, "hist": -0.88, "mri_res": 0.022, "hist_res": -0.88},
      {"group": "Control", "month": 6, "mri": 0.727, "hist": -1.00, "mri_res": 0.027, "hist_res": -1.00},
      {"group": "Control", "month": 10, "mri": 0.731, "hist": -0.65, "mri_res": 0.031, "hist_res": -0.65},
      {"group": "AD", "month": 2, "mri": 0.831, "hist": 0.18, "mri_res": 0.031, "hist_res": -0.82},
      {"group": "Control", "month": 2, "mri": 0.736, "hist": -1.00, "mri_res": 0.036, "hist_res": -1.00},
      {"group": "Control", "month": 4, "mri": 0.737, "hist": -0.90, "mri_res": 0.037, "hist_res": -0.90},
      {"group": "Control", "month": 6, "mri": 0.742, "hist": -0.95, "mri_res": 0.042, "hist_res": -0.95},
      {"group": "Control", "month": 10, "mri": 0.742, "hist": -1.01, "mri_res": 0.042, "hist_res": -1.01},
      {"group": "AD", "month": 10, "mri": 1.547, "hist": 13.52, "mri_res": 0.047, "hist_res": -1.43},
      {"group": "Control", "month": 4, "mri": 0.757, "hist": -0.36, "mri_res": 0.057, "hist_res": -0.36},
      {"group": "AD", "month": 4, "mri": 1.015, "hist": 2.87, "mri_res": 0.060, "hist_res": -0.18},
      {"group": "AD", "month": 8, "mri": 1.401, "hist": 12.94, "mri_res": 0.051, "hist_res": -0.01},
      {"group": "AD", "month": 4, "mri": 1.002, "hist": 3.00, "mri_res": 0.047, "hist_res": -0.05},
      {"group": "AD", "month": 8, "mri": 1.395, "hist": 12.83, "mri_res": 0.045, "hist_res": -0.12},
      {"group": "AD", "month": 10, "mri": 1.541, "hist": 15.13, "mri_res": 0.041, "hist_res": 0.18},
      {"group": "Control", "month": 10, "mri": 0.746, "hist": 0.27, "mri_res": 0.046, "hist_res": 0.27},
      {"group": "AD", "month": 6, "mri": 1.191, "hist": 6.72, "mri_res": 0.041, "hist_res": -0.43},
      {"group": "AD", "month": 8, "mri": 1.393, "hist": 12.52, "mri_res": 0.043, "hist_res": -0.43},
      {"group": "AD", "month": 8, "mri": 1.387, "hist": 12.36, "mri_res": 0.037, "hist_res": -0.59},
      {"group": "AD", "month": 2, "mri": 0.834, "hist": 0.45, "mri_res": 0.034, "hist_res": -0.55},
      {"group": "Control", "month": 2, "mri": 0.733, "hist": 0.27, "mri_res": 0.033, "hist_res": 0.27},
      {"group": "AD", "month": 4, "mri": 0.992, "hist": 3.29, "mri_res": 0.037, "hist_res": 0.24},
      {"group": "Control", "month": 4, "mri": 0.739, "hist": 0.17, "mri_res": 0.039, "hist_res": 0.17},
      {"group": "Control", "month": 8, "mri": 0.738, "hist": -0.48, "mri_res": 0.038, "hist_res": -0.48},
      {"group": "Control", "month": 6, "mri": 0.732, "hist": -0.36, "mri_res": 0.032, "hist_res": -0.36},
      {"group": "AD", "month": 4, "mri": 0.991, "hist": 2.88, "mri_res": 0.036, "hist_res": -0.17},
      {"group": "Control", "month": 6, "mri": 0.724, "hist": -0.58, "mri_res": 0.024, "hist_res": -0.58},
      {"group": "Control", "month": 2, "mri": 0.725, "hist": -0.74, "mri_res": 0.025, "hist_res": -0.74},
      {"group": "Control", "month": 4, "mri": 0.727, "hist": -0.79, "mri_res": 0.027, "hist_res": -0.79},
      {"group": "Control", "month": 8, "mri": 0.703, "hist": -0.57, "mri_res": 0.003, "hist_res": -0.57},
      {"group": "AD", "month": 2, "mri": 0.803, "hist": 0.23, "mri_res": 0.003, "hist_res": -0.77},
      {"group": "Control", "month": 6, "mri": 0.707, "hist": -0.81, "mri_res": 0.007, "hist_res": -0.81},
      {"group": "AD", "month": 4, "mri": 0.967, "hist": 2.26, "mri_res": 0.012, "hist_res": -0.79},
      {"group": "AD", "month": 4, "mri": 0.974, "hist": 2.30, "mri_res": 0.019, "hist_res": -0.75}
    ]
  },
  "resolve": {"scale": {"shape": "independent", "fill": "independent", "stroke": "independent"}, "legend": {"shape": "independent"}},
  "spacing": 12,
  "vconcat": [
    {
      "spacing": 42,
      "resolve": {"scale": {"shape": "independent", "fill": "independent", "stroke": "independent"}, "legend": {"shape": "independent"}},
      "hconcat": [
        {
          "width": 433,
          "height": 267,
          "title": {"text": "(a) Histology versus MRI.", "orient": "bottom", "anchor": "middle", "frame": "bounds", "offset": 24},
          "layer": [
            {
              "data": {"name": "obs"},
              "mark": {"type": "point", "filled": true, "size": 100, "strokeWidth": 1, "opacity": 1},
              "encoding": {
                "x": {"field": "mri", "type": "quantitative", "title": "MRI Parameter",
                      "scale": {"domain": [0.585, 1.605], "nice": false, "zero": false},
                      "axis": {"values": [0.6, 0.8, 1.0, 1.2, 1.4, 1.6], "format": ".1f", "labelFontSize": 8.5, "titleFontSize": 10.5, "titlePadding": 2}},
                "y": {"field": "hist", "type": "quantitative", "title": "Histology Feature",
                      "scale": {"domain": [-2.85, 17.5], "nice": false, "zero": false},
                      "axis": {"values": [0, 5, 10, 15], "labelFontSize": 8.5, "titleFontSize": 10.5, "titlePadding": 4}},
                "fill": {"field": "group", "type": "nominal", "scale": {"domain": ["AD", "Control"], "range": ["#F8766D", "#00BFC4"]}, "legend": null},
                "stroke": {"field": "group", "type": "nominal", "scale": {"domain": ["AD", "Control"], "range": ["#F8766D", "#00BFC4"]}, "legend": null},
                "shape": {"field": "month", "type": "nominal",
                          "scale": {"domain": [2, 4, 6, 8, 10], "range": [
                            "M -0.8 0 A 0.8 0.6 0 1 1 0.8 0 A 0.8 0.6 0 1 1 -0.8 0 Z",
                            "M 0 -0.75 L 1 0.65 L -1 0.65 Z",
                            "M -0.8 -0.68 L 0.8 -0.68 L 0.8 0.68 L -0.8 0.68 Z",
                            "M -1 0 L 1 0 M 0 -0.8 L 0 0.8",
                            "M -0.8 -0.65 L 0.8 -0.65 M 0.8 -0.65 L 0.8 0.65 M 0.8 0.65 L -0.8 0.65 M -0.8 0.65 L -0.8 -0.65 M -0.8 -0.65 L 0.8 0.65 M 0.8 -0.65 L -0.8 0.65"]},
                          "legend": {"title": "month", "orient": "top-left", "offset": 19, "titleFontSize": 10, "titleFontWeight": "normal", "titleColor": "#000000", "titlePadding": 9,
                                     "labelFontSize": 9, "labelColor": "#000000", "labelOffset": 12, "rowPadding": 10, "symbolOffset": 15,
                                     "symbolFillColor": "black", "symbolStrokeColor": "black", "symbolStrokeWidth": 1, "symbolSize": 100}}
              }
            },
            {
              "data": {"name": "means"},
              "mark": {"type": "point", "shape": "M -1 0 A 1 0.68 0 1 1 1 0 A 1 0.68 0 1 1 -1 0 Z", "size": 2209, "filled": false, "stroke": "#00BFC4", "strokeWidth": 1.5, "opacity": 1},
              "encoding": {
                "x": {"field": "ctrl_mri", "type": "quantitative", "title": "MRI Parameter"},
                "y": {"field": "ctrl_hist", "type": "quantitative", "title": "Histology Feature"}
              }
            },
            {
              "data": {"name": "means"},
              "mark": {"type": "point", "shape": "M -1 0 A 1 0.68 0 1 1 1 0 A 1 0.68 0 1 1 -1 0 Z", "size": 2209, "filled": false, "stroke": "#F8766D", "strokeWidth": 1.5, "opacity": 1},
              "encoding": {
                "x": {"field": "ad_mri", "type": "quantitative", "title": "MRI Parameter"},
                "y": {"field": "ad_hist", "type": "quantitative", "title": "Histology Feature"}
              }
            },
            {
              "data": {"name": "means"},
              "mark": {"type": "rule", "color": "black", "strokeWidth": 2},
              "encoding": {
                "x": {"field": "ctrl_mri", "type": "quantitative", "title": "MRI Parameter"},
                "y": {"field": "ctrl_hist", "type": "quantitative", "title": "Histology Feature"},
                "x2": {"field": "ad_mri"},
                "y2": {"field": "ad_hist"}
              }
            }
          ]
        },
        {
          "width": 403,
          "height": 261,
          "title": {"text": "(b) Residuals after subtracting the means.", "orient": "bottom", "anchor": "middle", "frame": "bounds", "offset": 28},
          "layer": [
            {
              "data": {"name": "obs"},
              "mark": {"type": "point", "filled": true, "size": 100, "strokeWidth": 1, "opacity": 1},
              "encoding": {
                "x": {"field": "mri_res", "type": "quantitative", "title": "MRI Parameter",
                      "scale": {"domain": [-0.0687, 0.0668], "nice": false, "zero": false},
                      "axis": {"values": [-0.06, -0.04, -0.02, 0, 0.02, 0.04, 0.06],
                               "labelExpr": "indexof([-0.04, 0, 0.04], datum.value) >= 0 ? format(datum.value, '.2f') : ''",
                               "tickOpacity": {"condition": {"test": "indexof([-0.04, 0, 0.04], datum.value) < 0", "value": 0}, "value": 1},
                               "grid": true, "gridColor": "#ebebeb", "labelFontSize": 10, "titleFontSize": 12, "titlePadding": 2}},
                "y": {"field": "hist_res", "type": "quantitative", "title": "Histology Feature",
                      "scale": {"domain": [-2.70, 2.943], "nice": false, "zero": false},
                      "axis": {"values": [-2, -1, 0, 1, 2], "format": "d", "labelOverlap": false,
                               "grid": true, "gridColor": "#ebebeb", "labelFontSize": 10, "labelPadding": 4, "titleFontSize": 12, "titlePadding": 6}},
                "fill": {"field": "group", "type": "nominal", "scale": {"domain": ["AD", "Control"], "range": ["#F8766D", "#00BFC4"]}, "legend": null},
                "stroke": {"field": "group", "type": "nominal", "scale": {"domain": ["AD", "Control"], "range": ["#F8766D", "#00BFC4"]}, "legend": null},
                "shape": {"field": "month", "type": "nominal", "legend": null,
                          "scale": {"domain": [2, 4, 6, 8, 10], "range": [
                            "M -0.8 0 A 0.8 0.6 0 1 1 0.8 0 A 0.8 0.6 0 1 1 -0.8 0 Z",
                            "M 0 -0.75 L 1 0.65 L -1 0.65 Z",
                            "M -0.8 -0.68 L 0.8 -0.68 L 0.8 0.68 L -0.8 0.68 Z",
                            "M -1 0 L 1 0 M 0 -0.8 L 0 0.8",
                            "M -0.8 -0.65 L 0.8 -0.65 M 0.8 -0.65 L 0.8 0.65 M 0.8 0.65 L -0.8 0.65 M -0.8 0.65 L -0.8 -0.65 M -0.8 -0.65 L 0.8 0.65 M 0.8 -0.65 L -0.8 0.65"]}}
              }
            },
            {
              "data": {"values": [{}]},
              "mark": {"type": "rule", "color": "black", "strokeWidth": 1.3},
              "encoding": {"x": {"datum": 0, "type": "quantitative"}}
            },
            {
              "data": {"values": [{}]},
              "mark": {"type": "rule", "color": "black", "strokeWidth": 1.3},
              "encoding": {"y": {"datum": 0, "type": "quantitative"}}
            }
          ]
        }
      ]
    },
    {
      "spacing": 0,
      "hconcat": [
        {
          "width": 228,
          "height": 10,
          "data": {"values": []},
          "mark": "point",
          "view": {"stroke": null}
        },
        {
          "width": 427,
          "height": 253,
          "title": {"text": "(c) Age dependent AD progression effect.", "orient": "bottom", "anchor": "start", "frame": "bounds", "offset": 27},
          "data": {"name": "means"},
          "mark": {"type": "point", "filled": true, "size": 200, "fill": "black", "stroke": "black", "strokeWidth": 1.2, "opacity": 1},
          "encoding": {
            "x": {"field": "alpha", "type": "quantitative", "title": "α",
                  "scale": {"domain": [0.069, 0.838], "nice": false, "zero": false},
                  "axis": {"values": [0.2, 0.4, 0.6, 0.8], "format": ".1f", "labelFontSize": 11, "labelPadding": 4, "titleFont": "DejaVu Serif", "titleFontSize": 14, "titlePadding": 2}},
            "y": {"field": "beta", "type": "quantitative", "title": "β",
                  "scale": {"domain": [0.34, 15.6], "nice": false, "zero": false},
                  "axis": {"values": [5, 10, 15], "labelAngle": 270, "labelAlign": "center", "labelBaseline": "bottom", "labelFontSize": 11, "labelPadding": 4, "titleFont": "DejaVu Serif", "titleFontSize": 14, "titlePadding": 6}},
            "shape": {"field": "month", "type": "nominal", "legend": null,
                      "scale": {"domain": [2, 4, 6, 8, 10], "range": [
                        "M -0.8 0 A 0.8 0.6 0 1 1 0.8 0 A 0.8 0.6 0 1 1 -0.8 0 Z",
                        "M 0 -0.75 L 1 0.65 L -1 0.65 Z",
                        "M -0.8 -0.68 L 0.8 -0.68 L 0.8 0.68 L -0.8 0.68 Z",
                        "M -1 0 L 1 0 M 0 -0.8 L 0 0.8",
                        "M -0.8 -0.65 L 0.8 -0.65 M 0.8 -0.65 L 0.8 0.65 M 0.8 0.65 L -0.8 0.65 M -0.8 0.65 L -0.8 -0.65 M -0.8 -0.65 L 0.8 0.65 M 0.8 -0.65 L -0.8 0.65"]}}
          }
        }
      ]
    }
  ]
}
